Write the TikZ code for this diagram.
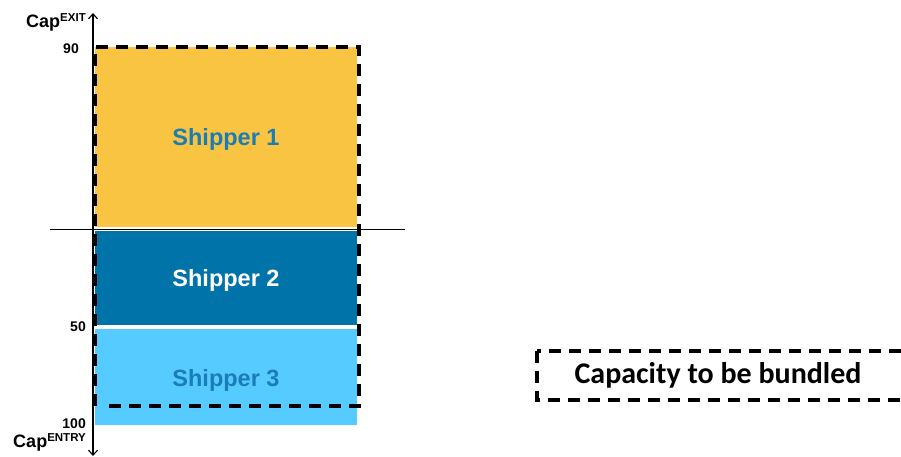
\documentclass[tikz,border=0pt]{standalone}
\usepackage{fontspec}
\setmainfont{Liberation Sans}
\newfontfamily\legendfont{Carlito}
\usetikzlibrary{arrows.meta}
\definecolor{shipyellow}{HTML}{F8C441}
\definecolor{shipdark}{HTML}{0073A8}
\definecolor{shiplight}{HTML}{55CBFF}
\definecolor{shiptext}{HTML}{1B7DB5}
\newcommand{\capwith}[1]{\fontsize{18}{20}\selectfont Cap\raisebox{6pt}{\fontsize{11.5}{13}\selectfont #1}}
\tikzset{
  bundle/.style={line width=3.2pt, dash pattern=on 12pt off 8pt},
  shiplabel/.style={font=\fontsize{23.5}{26}\selectfont\bfseries},
  ticklabel/.style={font=\fontsize{14}{16}\selectfont\bfseries, anchor=base east, inner sep=0pt},
  axislabel/.style={font=\bfseries, anchor=base east, inner sep=0pt}
}
\begin{document}
\begin{tikzpicture}[x=1pt,y=-1pt]
\useasboundingbox (0,0) rectangle (901,457);
% capacity bands
\fill[shipyellow] (95,47) rectangle (357,227);
\fill[shipdark] (95,231) rectangle (357,325);
\fill[shiplight] (95,329) rectangle (357,425);
\node[shiplabel, text=shiptext] (s1) at (226,139) {Shipper 1};
\node[shiplabel, text=white] (s2) at (226,280) {Shipper 2};
\node[shiplabel, text=shiptext] (s3) at (226,380) {Shipper 3};
% separating line across the stack
\coordinate (hl) at (50,229);
\coordinate (hr) at (405,229);
\draw[line width=1pt] (hl) -- (hr);
% vertical axis with arrows at both ends
\coordinate (amid) at (93,230);
\coordinate (atop) at (93,13);
\coordinate (abot) at (93,456);
\draw[line width=1.1pt, -{Straight Barb[length=5pt,width=9pt]}] (amid) -- (atop);
\draw[line width=1.1pt, -{Straight Barb[length=5pt,width=9pt]}] (amid) -- (abot);
\node[ticklabel] (t90) at (79,54) {90};
\node[ticklabel] (t50) at (86,331) {50};
\node[ticklabel] (t100) at (86,428) {100};
\node[axislabel] (cexit) at (86,28) {\capwith{EXIT}};
\node[axislabel] (centry) at (86,447) {\capwith{ENTRY}};
% dashed outline of the bundled capacity
\draw[bundle] (95,406) -- (95,47) -- (359,47) -- (359,406) -- (107,406);
% legend
\draw[bundle] (537,351) rectangle (920,400);
\node[font=\legendfont\fontsize{30}{34}\selectfont\bfseries] (leg) at (718,375) {Capacity to be bundled};
\end{tikzpicture}
\end{document}
